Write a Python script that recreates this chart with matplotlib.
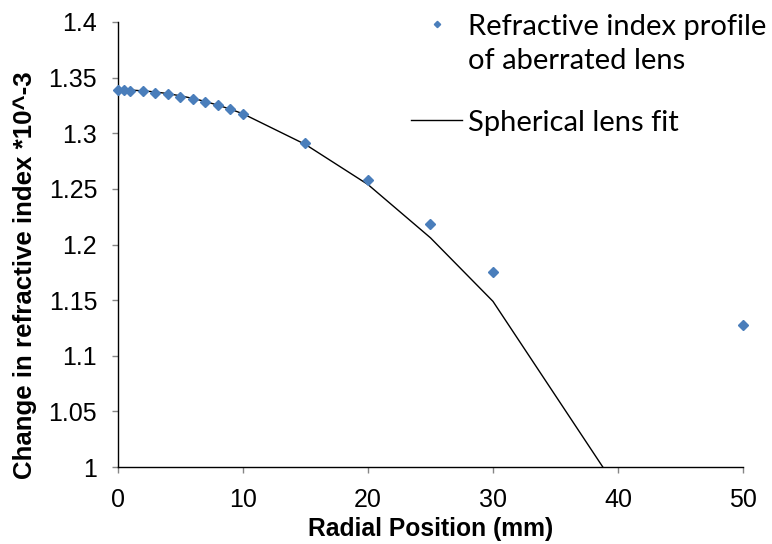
import matplotlib.pyplot as plt
from matplotlib.lines import Line2D
from matplotlib.text import Annotation

# radial position (mm) and measured index change
radius = [0, 0.5, 1, 2, 3, 4, 5, 6, 7, 8, 9, 10, 15, 20, 25, 30, 50]
index_profile = [1.3387, 1.3387, 1.3382, 1.3378, 1.3366, 1.3351, 1.3330, 1.3306,
                 1.3282, 1.3252, 1.3215, 1.3175, 1.291, 1.258, 1.218, 1.175, 1.128]
# spherical fit evaluated on the same radii
index_fit = [1.3390, 1.3389, 1.3388, 1.3381, 1.3371, 1.3356, 1.3336, 1.3313,
             1.3285, 1.3252, 1.3216, 1.3175, 1.2899, 1.2539, 1.2060, 1.1489, 0.810]

yticks = [1, 1.05, 1.1, 1.15, 1.2, 1.25, 1.3, 1.35, 1.4]
ytick_labels = ["1", "1.05", "1.1", "1.15", "1.2", "1.25", "1.3", "1.35", "1.4"]
xticks = [0, 10, 20, 30, 40, 50]

blue = "#4A7EBB"
tick_grey = "#868686"

fig = plt.figure(figsize=(7.72, 5.44), dpi=100)
ax = fig.add_axes([0.1528, 0.1415, 0.8096, 0.8181])

ax.plot(radius, index_fit, color="black", lw=1.0, zorder=2)
ax.plot(radius, index_profile, ls="none", marker="D", ms=5.2, color=blue,
        mec=blue, zorder=3, clip_on=False)

ax.set_xlim(0, 50)
ax.set_ylim(1, 1.4)
ax.set_xticks(xticks)
ax.set_yticks(yticks)
ax.set_yticklabels(ytick_labels)

for side in ["top", "right"]:
    ax.spines[side].set_visible(False)
for side in ["left", "bottom"]:
    ax.spines[side].set_linewidth(1.0)
    ax.spines[side].set_color("black")

ax.tick_params(axis="both", direction="out", length=4, width=1,
               color=tick_grey, labelsize=18, pad=11)
for lab in ax.get_xticklabels() + ax.get_yticklabels():
    lab.set_fontfamily("Liberation Sans")

ax.set_xlabel("Radial Position (mm)", fontsize=17.7, fontweight="bold",
              fontfamily="Liberation Sans", labelpad=4)
ax.set_ylabel("Change in refractive index *10^-3", fontsize=18.6, fontweight="bold",
              fontfamily="Liberation Sans")
ax.yaxis.set_label_coords(-0.13, 0.431)

handles = [
    Line2D([], [], ls="none", marker="D", ms=3.2, color=blue, mec=blue),
    Line2D([], [], color="black", lw=1.0),
]
leg = fig.legend(handles, ["Refractive index profile", "Spherical lens fit"],
                 loc="upper left", bbox_to_anchor=(0.5324, 0.975),
                 frameon=False, prop={"family": "Lato", "size": 21},
                 handlelength=1.75, handletextpad=0.2, labelspacing=2.4,
                 borderaxespad=0.0, borderpad=0.0)

# second line of the first legend entry, placed under its first line
second_line = Annotation("of aberrated lens", xy=(0, 0), xycoords=leg.get_texts()[0],
                         xytext=(0, -34), textcoords="offset pixels",
                         va="bottom", ha="left", fontfamily="Lato", fontsize=21)
second_line.set_zorder(6)
fig.add_artist(second_line)

fig.savefig("out.png", dpi=100)
